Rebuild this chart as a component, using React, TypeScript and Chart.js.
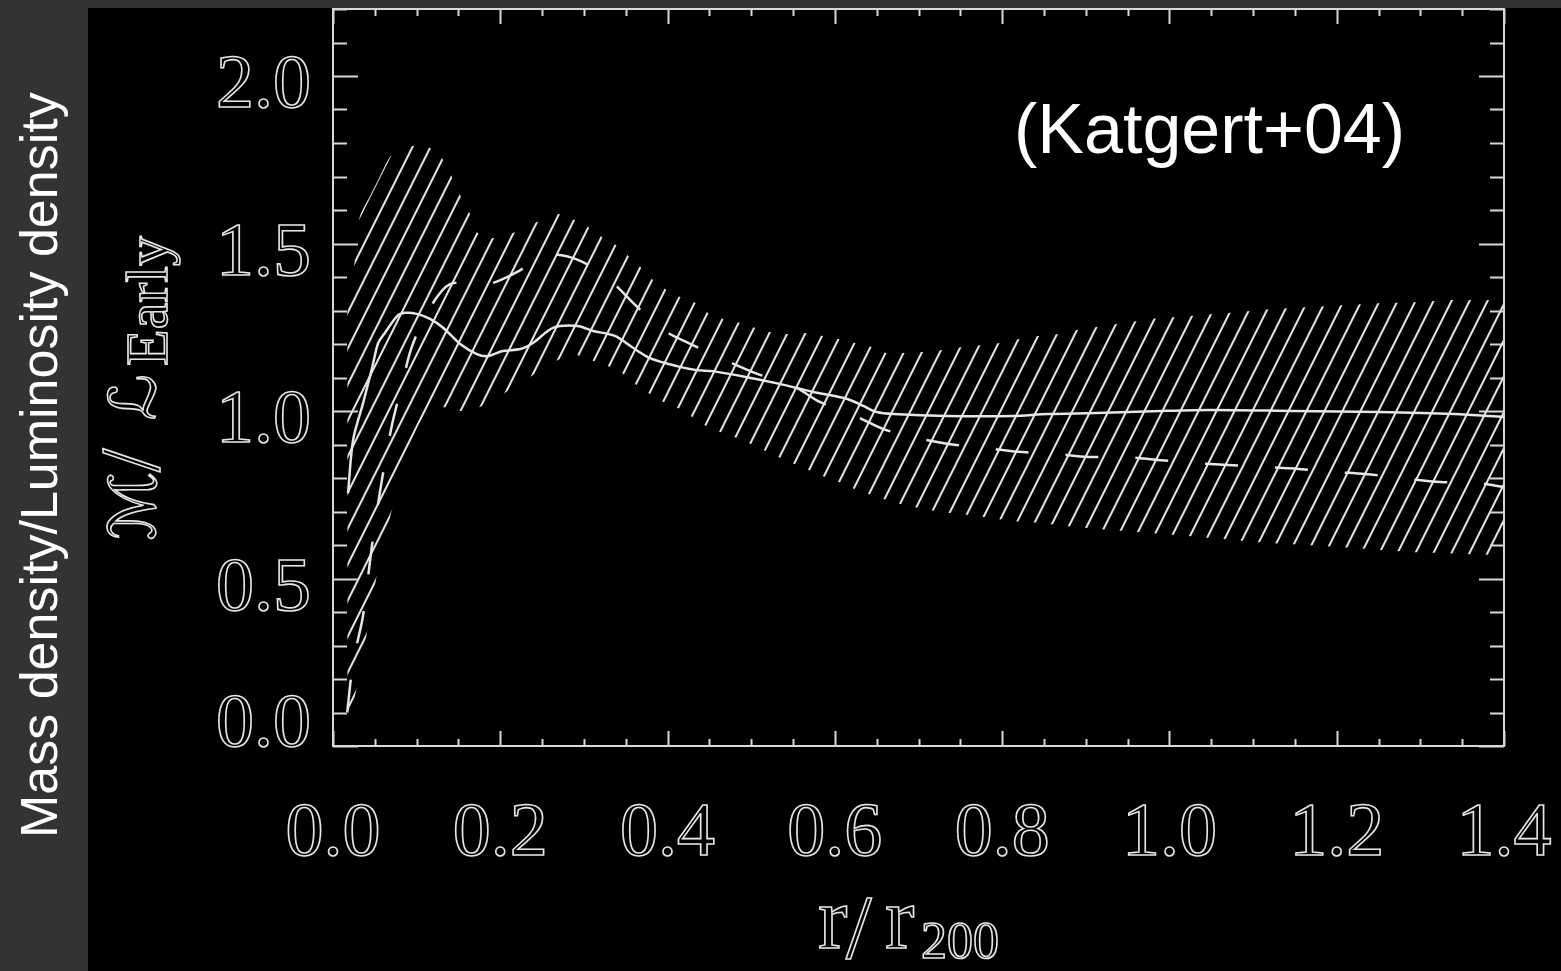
import React, { useEffect, useRef } from "react";
import { Chart, registerables } from "chart.js";

Chart.register(...registerables);

// ---------- data ----------
const xTickLabels = ["0.0", "0.2", "0.4", "0.6", "0.8", "1.0", "1.2", "1.4"];
const yTickLabels = ["0.0", "0.5", "1.0", "1.5", "2.0"];

const bandX = [0.017, 0.024, 0.032, 0.045, 0.056, 0.068, 0.08, 0.094, 0.105, 0.116, 0.13, 0.142, 0.152, 0.164, 0.173, 0.191, 0.215, 0.244, 0.269, 0.289, 0.305, 0.322, 0.34, 0.353, 0.369, 0.381, 0.399, 0.415, 0.432, 0.448, 0.466, 0.487, 0.505, 0.522, 0.544, 0.564, 0.586, 0.604, 0.624, 0.644, 0.662, 0.684, 0.705, 0.728, 0.753, 0.776, 0.797, 0.821, 0.843, 0.867, 0.89, 0.913, 0.937, 0.98, 1.027, 1.072, 1.12, 1.162, 1.208, 1.249, 1.294, 1.339, 1.383, 1.4];
const bandUpper = [1.30, 1.40, 1.58, 1.645, 1.70, 1.758, 1.78, 1.791, 1.79, 1.785, 1.755, 1.70, 1.645, 1.588, 1.531, 1.516, 1.531, 1.564, 1.588, 1.570, 1.549, 1.519, 1.493, 1.463, 1.427, 1.394, 1.361, 1.34, 1.325, 1.293, 1.275, 1.263, 1.248, 1.236, 1.230, 1.233, 1.224, 1.215, 1.203, 1.191, 1.173, 1.173, 1.176, 1.182, 1.191, 1.197, 1.203, 1.215, 1.224, 1.230, 1.242, 1.251, 1.260, 1.275, 1.284, 1.293, 1.304, 1.310, 1.316, 1.322, 1.325, 1.331, 1.331, 1.333];
const bandLower = [0.03, 0.12, 0.22, 0.40, 0.56, 0.68, 0.79, 0.91, 0.97, 0.995, 1.01, 1.01, 1.00, 1.005, 1.01, 1.03, 1.07, 1.115, 1.152, 1.168, 1.155, 1.14, 1.123, 1.098, 1.066, 1.048, 1.022, 1.006, 0.978, 0.952, 0.934, 0.915, 0.895, 0.875, 0.850, 0.829, 0.805, 0.789, 0.767, 0.749, 0.734, 0.718, 0.709, 0.698, 0.692, 0.684, 0.677, 0.670, 0.666, 0.660, 0.653, 0.648, 0.643, 0.635, 0.626, 0.616, 0.606, 0.600, 0.593, 0.586, 0.578, 0.574, 0.571, 0.570];

const solidX = [0.018, 0.024, 0.036, 0.047, 0.054, 0.062, 0.077, 0.086, 0.1, 0.116, 0.132, 0.152, 0.172, 0.185, 0.203, 0.224, 0.239, 0.263, 0.292, 0.311, 0.337, 0.359, 0.379, 0.411, 0.435, 0.454, 0.495, 0.534, 0.574, 0.615, 0.634, 0.65, 0.67, 0.734, 0.813, 0.854, 0.913, 0.99, 1.05, 1.15, 1.25, 1.34, 1.4];
const solidY = [0.755, 0.913, 1.024, 1.131, 1.203, 1.233, 1.284, 1.293, 1.29, 1.275, 1.248, 1.2, 1.17, 1.164, 1.179, 1.185, 1.203, 1.248, 1.254, 1.239, 1.224, 1.188, 1.158, 1.134, 1.122, 1.119, 1.101, 1.081, 1.057, 1.036, 1.015, 0.997, 0.991, 0.985, 0.985, 0.991, 0.994, 1.0, 1.003, 1.0, 0.997, 0.991, 0.982];

const dashedX = [0.017, 0.024, 0.035, 0.041, 0.047, 0.054, 0.062, 0.071, 0.083, 0.094, 0.114, 0.14, 0.182, 0.218, 0.256, 0.293, 0.331, 0.359, 0.395, 0.43, 0.469, 0.505, 0.552, 0.582, 0.622, 0.658, 0.699, 0.738, 0.78, 0.819, 0.863, 0.903, 0.947, 0.986, 1.028, 1.07, 1.112, 1.154, 1.196, 1.234, 1.278, 1.324, 1.368, 1.4];
const dashedY = [0.1, 0.25, 0.376, 0.487, 0.606, 0.725, 0.845, 0.964, 1.084, 1.19, 1.30, 1.379, 1.376, 1.412, 1.466, 1.451, 1.391, 1.322, 1.242, 1.197, 1.152, 1.113, 1.072, 1.027, 0.988, 0.946, 0.919, 0.901, 0.89, 0.878, 0.872, 0.863, 0.863, 0.854, 0.845, 0.839, 0.833, 0.827, 0.818, 0.812, 0.8, 0.788, 0.785, 0.773];

const sideTitle = "Mass density/Luminosity density";
const sourceNote = "(Katgert+04)";

const W = 1561;
const H = 971;
const INK = "#e6e6e6";

const toPts = (xs: number[], ys: number[]) => xs.map((x, i) => ({ x, y: ys[i] }));

function makeHatch(ctx: CanvasRenderingContext2D) {
  const tile = document.createElement("canvas");
  tile.width = 18;
  tile.height = 36;
  const t = tile.getContext("2d")!;
  t.strokeStyle = INK;
  t.lineWidth = 2;
  t.beginPath();
  t.moveTo(-2, 40);
  t.lineTo(20, -4);
  t.moveTo(-2, 4);
  t.lineTo(2, -4);
  t.moveTo(16, 40);
  t.lineTo(20, 32);
  t.stroke();
  return ctx.createPattern(tile, "repeat");
}

const decor = {
  id: "decor",
  beforeDraw(chart: any) {
    const ctx = chart.ctx;
    ctx.save();
    ctx.fillStyle = "#333333";
    ctx.fillRect(0, 0, W, H);
    ctx.fillStyle = "#000000";
    ctx.fillRect(88, 8, W - 88, H - 8);
    ctx.restore();
  },
  afterDraw(chart: any) {
    const ctx = chart.ctx;
    const { left, right, top, bottom } = chart.chartArea;
    const xs = chart.scales.x;
    const ys = chart.scales.y;
    ctx.save();
    // frame
    ctx.strokeStyle = "#d8d8d8";
    ctx.lineWidth = 2;
    ctx.strokeRect(left, top, right - left, bottom - top);
    // x ticks (inward, top and bottom)
    ctx.beginPath();
    for (let i = 0; i <= 28; i++) {
      const px = Math.round(xs.getPixelForValue(i * 0.05)) + 0.5;
      const len = i % 4 === 0 ? 15 : 7;
      ctx.moveTo(px, bottom);
      ctx.lineTo(px, bottom - len);
      ctx.moveTo(px, top);
      ctx.lineTo(px, top + len);
    }
    // y ticks (inward, left and right)
    for (let i = 0; i <= 22; i++) {
      const py = Math.round(ys.getPixelForValue(i * 0.1)) + 0.5;
      const len = i % 5 === 0 ? 25 : 14;
      ctx.moveTo(left, py);
      ctx.lineTo(left + len, py);
      ctx.moveTo(right, py);
      ctx.lineTo(right - len, py);
    }
    ctx.stroke();

    // tick labels (outlined serif, like the plotting font)
    ctx.strokeStyle = INK;
    ctx.lineWidth = 1.6;
    ctx.font = '76px "Liberation Serif"';
    ctx.textBaseline = "alphabetic";
    ctx.textAlign = "right";
    yTickLabels.forEach((lab) => {
      const py = ys.getPixelForValue(parseFloat(lab));
      ctx.strokeText(lab, 311, Math.min(py + 31, bottom));
    });
    ctx.textAlign = "center";
    xTickLabels.forEach((lab) => {
      const px = xs.getPixelForValue(parseFloat(lab));
      ctx.strokeText(lab, px, 855);
    });

    // x axis title r / r_200
    ctx.textAlign = "left";
    ctx.font = '88px "Liberation Serif"';
    ctx.strokeText("r", 818, 948);
    ctx.font = '92px "Liberation Serif"';
    ctx.strokeText("/", 846, 958);
    ctx.font = '88px "Liberation Serif"';
    ctx.strokeText("r", 885, 948);
    ctx.font = '52px "Liberation Serif"';
    ctx.strokeText("200", 921, 958);

    // y axis title  M / L_Early (rotated)
    ctx.save();
    ctx.translate(155, 540);
    ctx.rotate(-Math.PI / 2);
    ctx.font = '64px "DejaVu Serif", "DejaVu Sans", serif';
    ctx.strokeText("\u2133", 0, 0);
    ctx.font = '84px "Liberation Serif"';
    ctx.strokeText("/", 68, 4);
    ctx.font = '64px "DejaVu Serif", "DejaVu Sans", serif';
    ctx.strokeText("\u2112", 120, 0);
    ctx.font = '60px "Liberation Serif"';
    ctx.strokeText("Early", 174, 12);
    ctx.restore();

    // source note
    ctx.fillStyle = "#ffffff";
    ctx.font = '70px "Liberation Sans"';
    ctx.textAlign = "left";
    ctx.fillText(sourceNote, 1014, 153);

    // side strip title
    ctx.save();
    ctx.translate(57, 838);
    ctx.rotate(-Math.PI / 2);
    ctx.font = '52px "Liberation Sans"';
    ctx.fillStyle = "#ffffff";
    ctx.fillText(sideTitle, 0, 0);
    ctx.restore();

    ctx.restore();
  },
};

export default function App() {
  const ref = useRef<HTMLCanvasElement | null>(null);
  useEffect(() => {
    const canvas = ref.current!;
    const ctx = canvas.getContext("2d")!;
    const hatch = makeHatch(ctx);
    const chart = new Chart(canvas, {
      type: "line",
      data: {
        datasets: [
          {
            label: "solid",
            data: toPts(solidX, solidY),
            borderColor: INK,
            borderWidth: 2.5,
            pointRadius: 0,
            tension: 0.3,
            fill: false,
          },
          {
            label: "dashed",
            data: toPts(dashedX, dashedY),
            borderColor: INK,
            borderWidth: 2.5,
            borderDash: [33, 37],
            pointRadius: 0,
            tension: 0.3,
            fill: false,
          },
          {
            label: "upper",
            data: toPts(bandX, bandUpper),
            borderWidth: 0,
            borderColor: "rgba(0,0,0,0)",
            backgroundColor: hatch as any,
            pointRadius: 0,
            tension: 0.2,
            fill: "+1",
          },
          {
            label: "lower",
            data: toPts(bandX, bandLower),
            borderWidth: 0,
            borderColor: "rgba(0,0,0,0)",
            pointRadius: 0,
            tension: 0.2,
            fill: false,
          },
        ],
      },
      options: {
        animation: false,
        responsive: false,
        devicePixelRatio: 1,
        layout: { padding: { left: 0, right: 57, top: 9, bottom: 0 } },
        plugins: { legend: { display: false }, tooltip: { enabled: false } },
        scales: {
          x: {
            type: "linear",
            min: 0,
            max: 1.4,
            ticks: { display: false },
            grid: { display: false },
            border: { display: false },
            afterFit: (s: any) => {
              s.height = 225;
            },
          },
          y: {
            type: "linear",
            min: 0,
            max: 2.2,
            ticks: { display: false },
            grid: { display: false },
            border: { display: false },
            afterFit: (s: any) => {
              s.width = 333;
            },
          },
        },
      },
      plugins: [decor],
    });
    return () => chart.destroy();
  }, []);
  return (
    <div style={{ position: "fixed", left: 0, top: 0, width: W, height: H }}>
      <canvas ref={ref} width={W} height={H} style={{ display: "block", width: W, height: H }} />
    </div>
  );
}
